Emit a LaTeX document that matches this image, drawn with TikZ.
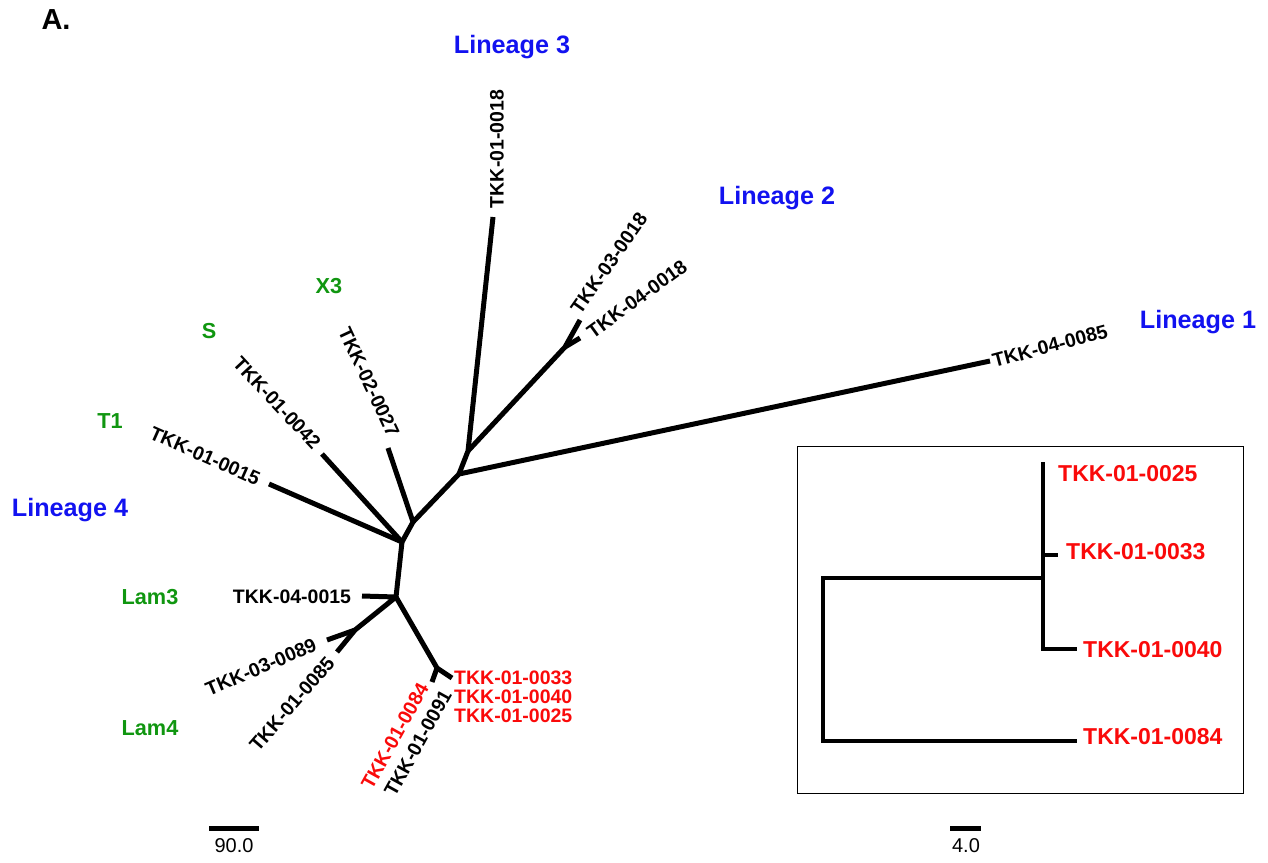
\documentclass[tikz,border=0pt]{standalone}
\usepackage{fontspec}
\setmainfont{Liberation Sans}
\definecolor{linblue}{RGB}{18,18,240}
\definecolor{spgreen}{RGB}{16,150,16}
\definecolor{isored}{RGB}{250,10,10}
\tikzset{
  branch/.style={line width=5pt, line cap=butt, line join=round},
  ibranch/.style={line width=4pt, line cap=butt, line join=miter},
  tip/.style={inner sep=0pt, font=\fontsize{19.5}{20}\selectfont\bfseries},
  redtip/.style={tip, text=isored},
  insettip/.style={inner sep=0pt, anchor=west, text=isored, font=\fontsize{23}{24}\selectfont\bfseries},
  lineage/.style={inner sep=0pt, text=linblue, font=\fontsize{25.2}{26}\selectfont\bfseries},
  family/.style={inner sep=0pt, text=spgreen, font=\fontsize{21.7}{22}\selectfont\bfseries},
  scaletext/.style={inner sep=0pt, font=\fontsize{20}{21}\selectfont},
}
\begin{document}
\begin{tikzpicture}[x=1pt,y=-1pt]
\useasboundingbox (0,0) rectangle (1268,862);

% panel letter
\node[inner sep=0pt, font=\fontsize{29}{30}\selectfont\bfseries] (panel) at (56,20) {A.};

% internal nodes of the unrooted tree
\coordinate (c1) at (402,542);
\coordinate (c2) at (413,522);
\coordinate (c3) at (459,474);
\coordinate (c4) at (468,451);
\coordinate (c5) at (565,347);
\coordinate (c6) at (396,597);
\coordinate (c7) at (355,630);
\coordinate (c8) at (437,668);

% leaf ends
\coordinate (t0018) at (493,217);
\coordinate (t3018) at (580,320);
\coordinate (t4018) at (580,338);
\coordinate (t4085) at (990,361);
\coordinate (t2027) at (388,448);
\coordinate (t0042) at (322,454);
\coordinate (t0015) at (269,484);
\coordinate (t4015) at (362,596);
\coordinate (t3089) at (327,640);
\coordinate (t0085) at (337,652);
\coordinate (t0084) at (432,682);
\coordinate (t0033) at (452,678);

% branches
\draw[branch] (t0015) -- (c1) -- (c2) -- (c3) -- (t4085);
\draw[branch] (t0042) -- (c1) -- (c6);
\draw[branch] (t2027) -- (c2);
\draw[branch] (c3) -- (c4) -- (t0018);
\draw[branch] (c4) -- (c5) -- (t3018);
\draw[branch] (c5) -- (t4018);
\draw[branch] (t4015) -- (c6) -- (c7) -- (t3089);
\draw[branch] (c7) -- (t0085);
\draw[branch] (c6) -- (c8) -- (t0084);
\draw[branch] (c8) -- (t0033);

% leaf labels
\node[tip, rotate=15] (l4085) at (1050,346) {TKK-04-0085};
\node[tip, rotate=90] (l0018) at (497,149) {TKK-01-0018};
\node[tip, rotate=55] (l3018) at (609,263) {TKK-03-0018};
\node[tip, rotate=36] (l4018) at (637,299) {TKK-04-0018};
\node[tip, rotate=-65] (l2027) at (369,382) {TKK-02-0027};
\node[tip, rotate=-47] (l0042) at (277,403) {TKK-01-0042};
\node[tip, rotate=-24] (l0015) at (205,456) {TKK-01-0015};
\node[tip] (l4015) at (292,597) {TKK-04-0015};
\node[tip, rotate=23] (l3089) at (261,667) {TKK-03-0089};
\node[tip, rotate=49] (l0085) at (292,704) {TKK-01-0085};
\node[redtip, rotate=61] (l0084) at (395,736) {TKK-01-0084};
\node[tip, rotate=61] (l0091) at (418,743) {TKK-01-0091};
\node[redtip, anchor=west] (l0033) at (454,678) {TKK-01-0033};
\node[redtip, anchor=west] (l0040) at (454,697) {TKK-01-0040};
\node[redtip, anchor=west] (l0025) at (454,716) {TKK-01-0025};

% lineage and family labels
\node[lineage] (lin3) at (512,47) {Lineage 3};
\node[lineage] (lin2) at (777,198) {Lineage 2};
\node[lineage] (lin1) at (1198,322) {Lineage 1};
\node[lineage] (lin4) at (70,510) {Lineage 4};
\node[family] (fx3) at (329,286) {X3};
\node[family] (fs) at (209,331) {S};
\node[family] (ft1) at (110,421) {T1};
\node[family] (flam3) at (150,597) {Lam3};
\node[family] (flam4) at (150,728) {Lam4};

% scale bar of the tree
\coordinate (sb1a) at (209,828);
\coordinate (sb1b) at (259,828);
\draw[branch] (sb1a) -- (sb1b);
\node[scaletext] (sb1t) at (234,846) {90.0};

% inset: rooted subtree
\node[draw, line width=1.3pt, minimum width=446pt, minimum height=347pt, anchor=north west, inner sep=0pt] (inset) at (797,446) {};
\coordinate (r0) at (823,578);
\coordinate (r1) at (823,741);
\coordinate (k0) at (1043,578);
\coordinate (kt) at (1043,462);
\coordinate (kb) at (1043,649);
\coordinate (k33) at (1043,555);
\coordinate (e33) at (1058,555);
\coordinate (e40) at (1077,649);
\coordinate (e84) at (1077,741);
\draw[ibranch] (k0) -- (r0) -- (r1) -- (e84);
\draw[ibranch] (kt) -- (kb) -- (e40);
\draw[ibranch] (k33) -- (e33);
\node[insettip] (i0025) at (1058,474) {TKK-01-0025};
\node[insettip] (i0033) at (1066,552) {TKK-01-0033};
\node[insettip] (i0040) at (1083,650) {TKK-01-0040};
\node[insettip] (i0084) at (1083,737) {TKK-01-0084};

% scale bar of the inset
\coordinate (sb2a) at (950,828);
\coordinate (sb2b) at (981,828);
\draw[branch] (sb2a) -- (sb2b);
\node[scaletext] (sb2t) at (966,846) {4.0};
\end{tikzpicture}
\end{document}
